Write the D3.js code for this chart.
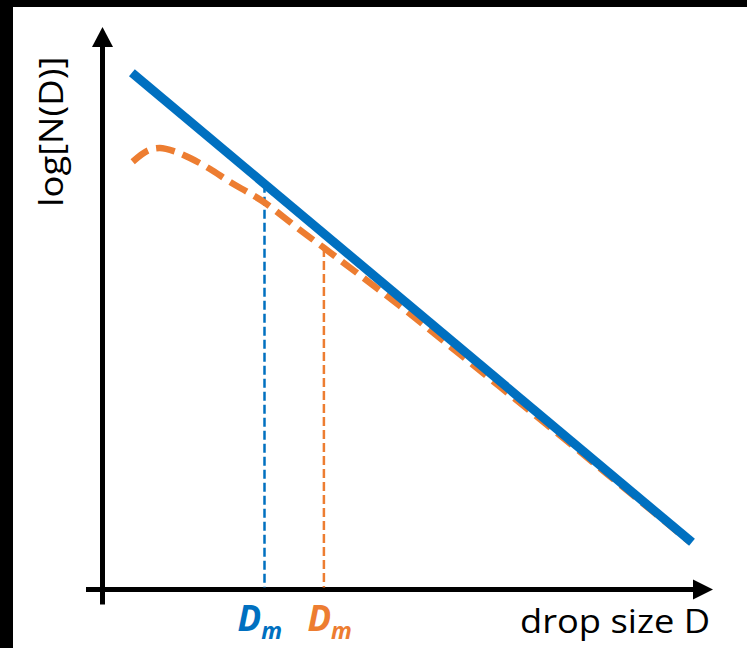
<!DOCTYPE html>
<html>
<head>
<meta charset="utf-8">
<script src="https://cdn.jsdelivr.net/npm/d3@7"></script>
<style>
  html, body { margin: 0; padding: 0; background: #000; }
  svg { display: block; }
</style>
</head>
<body>
<svg id="chart" width="747" height="648"></svg>
<script>
// Drop size distribution: exponential (straight in log space) vs. gamma-shaped curve
const exponentialD    = [0.49, 9.825];
const exponentialLogN = [10.336, 0.944];

const gammaD    = [0.503, 0.758, 0.958, 1.208, 1.458, 1.792, 2.125, 2.458, 2.70, 3.342, 3.692, 4.008, 4.958, 5.708, 6.625, 7.842, 8.792, 9.792];
const gammaLogN = [8.556, 8.78, 8.83, 8.76, 8.63, 8.41, 8.15, 7.92, 7.74, 7.144, 6.832, 6.544, 5.67, 4.946, 4.054, 2.87, 1.934, 0.948];

// Median drop sizes of each distribution and the height they reach
const medianD    = [2.70, 3.69];
const medianLogN = [8.113, 6.832];
const medianColors = ["#0070C0", "#ED7D31"];

const xLabel = "drop size D";
const yLabel = "log[N(D)]";

const W = 747, H = 648;
const svg = d3.select("#chart");

// white canvas with the dark frame on the top and left edges
svg.append("rect").attr("x", 0).attr("y", 0).attr("width", W).attr("height", H).attr("fill", "#000");
svg.append("rect").attr("x", 13).attr("y", 7).attr("width", W - 13).attr("height", H - 7).attr("fill", "#fff");

const x = d3.scaleLinear().domain([0, 10]).range([102.5, 702.5]);
const y = d3.scaleLinear().domain([0, 10]).range([589.5, 89.5]);

const blue = "#0070C0", orange = "#ED7D31";

// axes with arrow heads
const axisW = 5;
svg.append("line")
  .attr("x1", x(0)).attr("x2", x(0))
  .attr("y1", y(0) + 15).attr("y2", 45)
  .attr("stroke", "#000").attr("stroke-width", axisW);
svg.append("path")
  .attr("d", `M${x(0)},27 L${x(0) - 10.5},47 L${x(0) + 10.5},47 Z`)
  .attr("fill", "#000");
svg.append("line")
  .attr("x1", x(0) - 16.5).attr("x2", 695)
  .attr("y1", y(0)).attr("y2", y(0))
  .attr("stroke", "#000").attr("stroke-width", axisW);
svg.append("path")
  .attr("d", `M713,${y(0)} L693,${y(0) - 10} L693,${y(0) + 10} Z`)
  .attr("fill", "#000");

// dashed drop lines from each median to the x axis
svg.selectAll("line.median")
  .data(medianD)
  .join("line")
  .attr("class", "median")
  .attr("x1", d => x(d)).attr("x2", d => x(d))
  .attr("y1", (d, i) => y(medianLogN[i])).attr("y2", y(0) - 2)
  .attr("stroke", (d, i) => medianColors[i])
  .attr("stroke-width", 2.5)
  .attr("stroke-dasharray", "9,4");

// gamma distribution (dashed orange)
const gammaPts = gammaD.map((d, i) => [d, gammaLogN[i]]);
const line = d3.line().x(d => x(d[0])).y(d => y(d[1]));
svg.append("path")
  .attr("d", line.curve(d3.curveCatmullRom.alpha(0.5))(gammaPts))
  .attr("fill", "none")
  .attr("stroke", orange)
  .attr("stroke-width", 6.5)
  .attr("stroke-dasharray", "19,8.5");

// exponential distribution (solid blue)
const expPts = exponentialD.map((d, i) => [d, exponentialLogN[i]]);
svg.append("path")
  .attr("d", d3.line().x(d => x(d[0])).y(d => y(d[1]))(expPts))
  .attr("fill", "none")
  .attr("stroke", blue)
  .attr("stroke-width", 9);

// D_m labels under the axis
const labelFont = "'Open Sans', 'Noto Sans', sans-serif";
const labelOffsets = [-27, -16.5];
medianD.forEach((d, i) => {
  const t = svg.append("text")
    .attr("x", x(d) + labelOffsets[i])
    .attr("y", 631)
    .attr("fill", medianColors[i])
    .attr("font-family", labelFont)
    .attr("font-weight", "bold")
    .attr("font-style", "italic")
    .attr("font-size", 35);
  t.append("tspan").text("D");
  t.append("tspan").attr("font-size", 23).attr("dy", 8).text("m");
});

// axis titles
svg.append("text")
  .attr("x", 710).attr("y", 633)
  .attr("text-anchor", "end")
  .attr("font-family", labelFont)
  .attr("font-size", 32)
  .attr("fill", "#000")
  .attr("textLength", 190)
  .attr("lengthAdjust", "spacingAndGlyphs")
  .text(xLabel);

svg.append("text")
  .attr("transform", "translate(63,131.7) rotate(-90)")
  .attr("text-anchor", "middle")
  .attr("font-family", labelFont)
  .attr("font-size", 32)
  .attr("fill", "#000")
  .attr("textLength", 150)
  .attr("lengthAdjust", "spacingAndGlyphs")
  .text(yLabel);
</script>
</body>
</html>
